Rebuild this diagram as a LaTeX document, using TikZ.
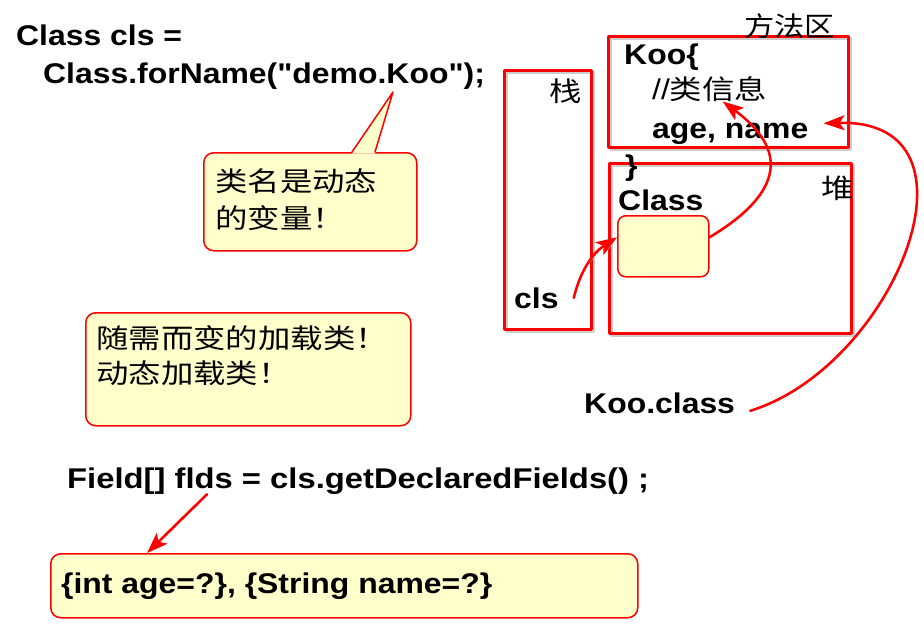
\documentclass[tikz,border=0pt]{standalone}
\usepackage{fontspec}
\setmainfont{Liberation Sans}[FakeStretch=1.12, Ligatures=TeXOff]
\newfontfamily\cjk{Noto Sans CJK SC}[FakeStretch=1.2]
\usetikzlibrary{arrows.meta}
\definecolor{notefill}{RGB}{255,255,204}

\begin{document}
\begin{tikzpicture}[x=1pt, y=-1pt, line join=round, line cap=round,
    code/.style={inner sep=0pt, anchor=base west, font=\fontsize{28.5}{34}\selectfont\bfseries},
    han/.style={inner sep=0pt, anchor=base west, font=\fontsize{27}{34}\selectfont\cjk},
    area/.style={draw=red, line width=3pt, inner sep=0pt, anchor=north west,
      preaction={draw=black!20, line width=3pt, transform canvas={shift={(1.8pt,-1.8pt)}}}},
    memo/.style={draw=red, line width=1.5pt, fill=notefill, inner sep=0pt, anchor=north west},
    link/.style={draw=red, line width=2.5pt, -{Stealth[length=21pt, width=15pt, inset=5pt]},
      preaction={draw=black!20, transform canvas={shift={(1pt,-1pt)}}}}]
  \useasboundingbox[fill=white] (0,0) rectangle (924,630);

  % memory areas
  \node[area, minimum width=87pt, minimum height=259pt] (stack) at (503,69) {};
  \node[area, minimum width=240pt, minimum height=111pt] (methods) at (607,35) {};
  \node[area, minimum width=242pt, minimum height=170pt] (heap) at (608,162) {};
  \node[memo, minimum width=91pt, minimum height=61pt, rounded corners=8pt] (clsobj) at (617,215) {};

  % notes
  \coordinate (tip) at (393,92);
  \node[memo, minimum width=213pt, minimum height=98pt, rounded corners=10pt] (hint) at (203,152) {};
  \fill[notefill] ([shift={(149pt,-1.5pt)}]hint.north west) -- (tip) -- ([shift={(172pt,-1.5pt)}]hint.north west) -- cycle;
  \draw[red, line width=1.5pt] ([xshift=149pt]hint.north west) -- (tip) -- ([xshift=172pt]hint.north west);
  \node[memo, minimum width=325pt, minimum height=113pt, rounded corners=10pt] (loadnote) at (85,312) {};
  \node[memo, minimum width=587pt, minimum height=64pt, rounded corners=10pt] (fieldbox) at (50,553) {};

  % code and labels
  \node[code] (decl) at (16,45) {Class cls =};
  \node[code] (forname) at (43,83) {Class.forName("demo.Koo");};
  \node[han] (hintA) at (215,191) {类名是动态};
  \node[han] (hintB) at (215,228) {的变量！};
  \node[han] (noteA) at (96,348) {随需而变的加载类！};
  \node[han] (noteB) at (96,383) {动态加载类！};
  \node[code] (fieldline) at (67,488) {\addfontfeature{FakeStretch=1.15}Field[] flds = cls.getDeclaredFields() ;};
  \node[code] (members) at (61,593) {\{int age=?\}, \{String name=?\}};
  \node[code] (kooclass) at (584,413) {Koo.class};

  \node[han] (methodlbl) at (744,36) {\addfontfeature{FakeStretch=1.12}方法区};
  \node[han] (stacklbl) at (549,101) {栈};
  \node[han] (heaplbl) at (821,198) {堆};
  \node[code] (koo) at (624,64) {Koo\{};
  \node[code] (info) at (652,99) {\mdseries//{\cjk\fontsize{27}{34}\selectfont 类信息}};
  \node[code] (fields) at (652,138) {age, name};
  \node[code] (brace) at (625,175) {\}};
  \node[code] (clslbl) at (618,210) {Class};
  \node[code] (cls) at (514,308) {cls};

  % references
  \draw[link] ([xshift=15pt]cls.east) .. controls +(9,-37) and +(-17,11) .. ([yshift=9pt]clsobj.west);
  \draw[link] ([yshift=9pt]clsobj.east) .. controls +(75,-45) and +(65,48) .. ([xshift=13pt]info.south);
  \draw[link] ([shift={(15pt,-8pt)}]kooclass.east) .. controls +(145,-45) and +(170,-5) .. ([shift={(15pt,10pt)}]fields.east);
  \draw[link] ([xshift=140pt]fieldline.south west) -- ([xshift=97pt]fieldbox.north west);
\end{tikzpicture}
\end{document}
